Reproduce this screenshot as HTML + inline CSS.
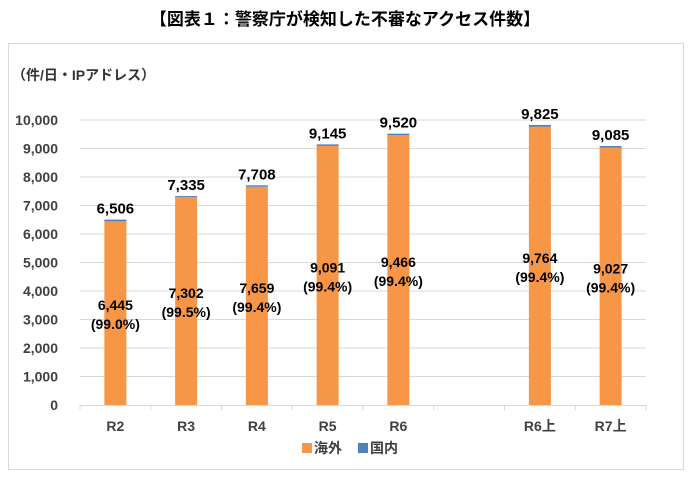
<!DOCTYPE html>
<html><head><meta charset="utf-8"><style>
body{margin:0;background:#fff;width:691px;height:477px;overflow:hidden}
svg text{font-family:"Liberation Sans","Noto Sans CJK JP",sans-serif}
</style></head><body>
<svg id="chart" width="691" height="477">
<text x="345" y="25" text-anchor="middle" font-size="17" font-weight="bold" fill="#000">【図表１：警察庁が検知した不審なアクセス件数】</text>
<rect x="8.5" y="43.5" width="675" height="426" fill="none" stroke="#d9d9d9"/>
<text x="12" y="80" font-size="14" font-weight="bold" fill="#333">（件/日・IPアドレス）</text>
<g id="grid"></g><g id="bars"></g><g id="labels"></g>
<g>
<rect x="302" y="443" width="10" height="10" fill="#f79646"/>
<text x="314" y="453" font-size="14" font-weight="bold" fill="#404040">海外</text>
<rect x="358" y="443" width="10" height="10" fill="#4f81bd"/>
<text x="370" y="453" font-size="14" font-weight="bold" fill="#404040">国内</text>
</g>
</svg>
<script>
const categories=["R2","R3","R4","R5","R6","","R6上","R7上"];
const totals=[6506,7335,7708,9145,9520,null,9825,9085];
const overseas=[6445,7302,7659,9091,9466,null,9764,9027];
const percents=["99.0%","99.5%","99.4%","99.4%","99.4%",null,"99.4%","99.4%"];
const yTicks=[0,1000,2000,3000,4000,5000,6000,7000,8000,9000,10000];
const NS="http://www.w3.org/2000/svg";
const x0=80,x1=646,y0=405,yTop=120,yMax=10000;
const bw=(x1-x0)/categories.length;
const Y=v=>y0-(v/yMax)*(y0-yTop);
const X=i=>x0+bw*(i+0.5);
function mk(t,a,p){const e=document.createElementNS(NS,t);for(const k in a)e.setAttribute(k,a[k]);p.appendChild(e);return e;}
const grid=document.getElementById('grid'),bars=document.getElementById('bars'),labels=document.getElementById('labels');
yTicks.forEach(v=>{
 if(v>0){const l=mk('line',{x1:x0,x2:x1,y1:Y(v),y2:Y(v),stroke:'#d9d9d9','stroke-width':1},grid);
 
 }
 const t=mk('text',{x:58,y:Y(v)+5,'text-anchor':'end','font-size':14,'font-weight':'bold',fill:'#404040'},grid);
 t.textContent=v.toLocaleString('en-US');
 
 
});
const ax=mk('line',{x1:x0,x2:x1,y1:y0+0.5,y2:y0+0.5,stroke:'#d9d9d9'},grid);


for(let i=0;i<=categories.length;i++){const tk=mk('line',{x1:x0+bw*i,x2:x0+bw*i,y1:y0,y2:y0+5,stroke:'#d9d9d9'},grid);
 
 }
categories.forEach((c,i)=>{
 const cx=X(i);
 const xl=mk('text',{x:cx,y:431,'text-anchor':'middle','font-size':14,'font-weight':'bold',fill:'#404040'},labels);
 xl.textContent=c;
 
 
 if(totals[i]==null)return;
 const o=overseas[i],tot=totals[i];
 const r1=mk('rect',{x:cx-11,y:Y(o),width:22,height:y0-Y(o),fill:'#f79646'},bars);
 
 
 const r2=mk('rect',{x:cx-11,y:Y(tot),width:22,height:Y(o)-Y(tot),fill:'#4f81bd'},bars);
 
 
 const tl=mk('text',{x:cx,y:Y(tot)-6,'text-anchor':'middle','font-size':15,'font-weight':'bold',fill:'#000'},labels);
 tl.textContent=tot.toLocaleString('en-US');
 
 
 const my=Y(o/2);
 const il=mk('text',{x:cx,y:my-3,'text-anchor':'middle','font-size':14,'font-weight':'bold',fill:'#000'},labels);
 il.textContent=o.toLocaleString('en-US');
 
 
 const pl=mk('text',{x:cx,y:my+16,'text-anchor':'middle','font-size':14,'font-weight':'bold',fill:'#000'},labels);
 pl.textContent='('+percents[i]+')';
 
 
});
</script>
</body></html>
